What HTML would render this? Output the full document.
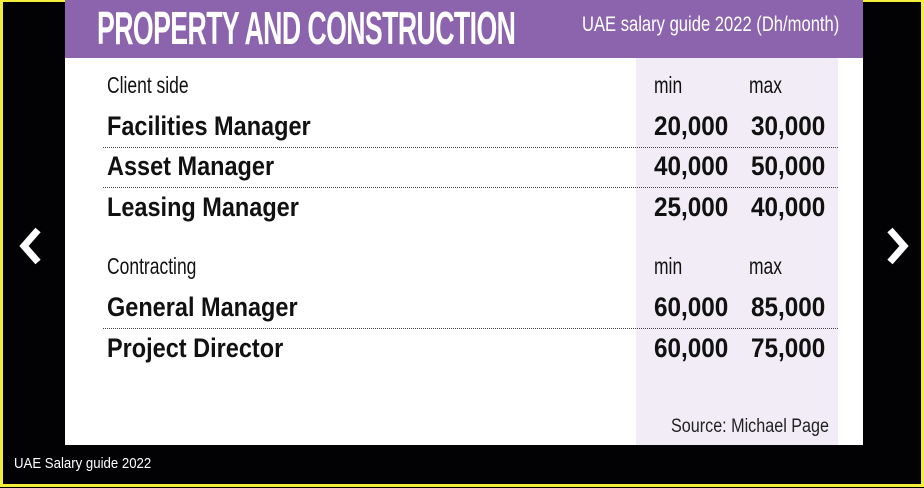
<!DOCTYPE html>
<html><head><meta charset="utf-8"><style>
body{margin:0;width:924px;height:488px;overflow:hidden;background:#000;}
#f{position:absolute;left:0;top:0;width:918px;height:482px;border:3px solid #f2ec3a;border-top-width:2px;background:#020204;}
.p{position:absolute;font-family:"Liberation Sans Narrow","Liberation Sans",sans-serif;white-space:nowrap;transform-origin:left center;}
#card{position:absolute;left:65px;top:0;width:798px;height:445px;background:#fff;}
#hd{position:absolute;left:0;top:0;width:798px;height:58px;background:#8b64ad;}
#col{position:absolute;left:571px;top:58px;width:202px;height:387px;background:#f1ecf5;}
.l{position:absolute;left:38px;width:735px;border-top:1.5px dotted #444;}
.b{font-weight:bold;font-size:27px;color:#111;transform:scaleX(0.87);}
.n{transform:scaleX(0.9);}
.s{font-size:23px;color:#111;transform:scaleX(0.76);}
</style></head><body>
<div id="f"></div>
<div id="card">
<div id="hd"></div>
<div id="col"></div>
<div class="p" style="left:32px;top:1px;font-size:46px;font-weight:bold;color:#fff;letter-spacing:-1px;transform:scaleX(0.58)">PROPERTY AND CONSTRUCTION</div>
<div class="p" style="left:517px;top:13px;font-size:21px;color:#fff;transform:scaleX(0.79)">UAE salary guide 2022 (Dh/month)</div>
<div class="p s" style="left:42px;top:72px">Client side</div>
<div class="p s" style="left:589px;top:72px">min</div>
<div class="p s" style="left:684px;top:72px">max</div>
<div class="p b" style="left:42px;top:111px">Facilities Manager</div>
<div class="p b n" style="left:589px;top:111px">20,000</div>
<div class="p b n" style="left:686px;top:111px">30,000</div>
<div class="l" style="top:147px"></div>
<div class="p b" style="left:42px;top:151px">Asset Manager</div>
<div class="p b n" style="left:589px;top:151px">40,000</div>
<div class="p b n" style="left:686px;top:151px">50,000</div>
<div class="l" style="top:187px"></div>
<div class="p b" style="left:42px;top:192px">Leasing Manager</div>
<div class="p b n" style="left:589px;top:192px">25,000</div>
<div class="p b n" style="left:686px;top:192px">40,000</div>
<div class="p s" style="left:42px;top:253px">Contracting</div>
<div class="p s" style="left:589px;top:253px">min</div>
<div class="p s" style="left:684px;top:253px">max</div>
<div class="p b" style="left:42px;top:292px">General Manager</div>
<div class="p b n" style="left:589px;top:292px">60,000</div>
<div class="p b n" style="left:686px;top:292px">85,000</div>
<div class="l" style="top:328px"></div>
<div class="p b" style="left:42px;top:333px">Project Director</div>
<div class="p b n" style="left:589px;top:333px">60,000</div>
<div class="p b n" style="left:686px;top:333px">75,000</div>
<div class="p" style="left:606px;top:416px;font-size:19px;color:#222;transform:scaleX(0.85)">Source: Michael Page</div>
</div>
<svg style="position:absolute;left:16px;top:226px" width="28" height="40"><polyline points="22,4 8,20 22,36" fill="none" stroke="#fff" stroke-width="7"/></svg>
<svg style="position:absolute;left:884px;top:226px" width="28" height="40"><polyline points="6,4 20,20 6,36" fill="none" stroke="#fff" stroke-width="7"/></svg>
<div class="p" style="left:14px;top:455px;font-size:15px;color:#fff;transform:scaleX(0.88)">UAE Salary guide 2022</div>
</body></html>
